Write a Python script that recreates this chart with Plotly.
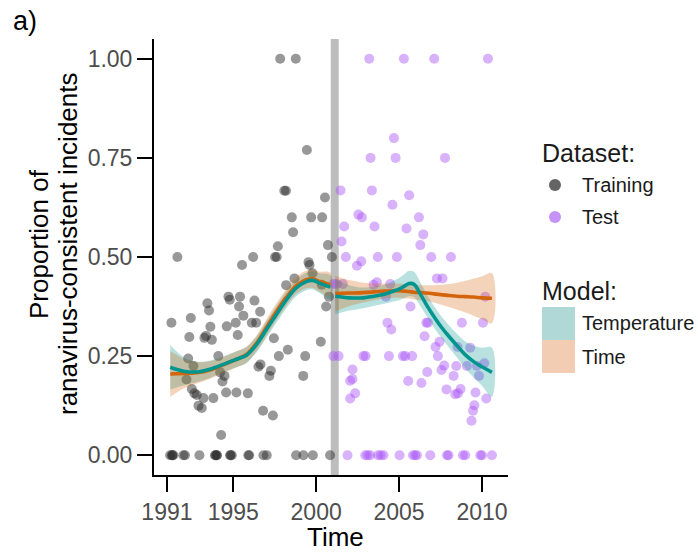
import plotly.graph_objects as go

# ---------------- data ----------------
train_year = [1997.83, 1998.77, 1999.44, 1998.08, 1998.18, 2000.53, 1998.53, 1999.70, 2000.36, 1998.61,
              1997.69, 2000.71, 1991.63, 1996.20, 1997.52, 1997.62, 2000.95, 1995.53, 1999.54, 1999.60,
              1999.78, 1998.69, 1998.19, 2000.34, 2000.77, 2000.60, 1991.27, 1992.44, 1993.44, 1993.54,
              1993.62, 1992.35, 1993.26, 1993.36, 1993.71, 1994.71, 1994.79, 1995.41, 1995.35, 1995.61,
              1996.28, 1996.62, 1996.12, 1996.38, 1995.15, 1994.61, 1995.27, 1997.45, 2000.28, 1998.29,
              1997.75, 1999.34, 1994.10, 1992.28, 1992.60, 1996.64, 1996.52, 1994.21, 1994.47, 1994.35,
              1997.27, 1997.18, 1999.22, 1992.18, 1992.50, 1992.66, 1992.80, 1993.20, 1993.80, 1994.57,
              1995.19, 1995.88, 1992.90, 1993.10, 1996.80, 1997.39, 1994.27,
              1991.19, 1991.31, 1991.33, 1991.39, 1991.99, 1992.09, 1992.96, 1993.90, 1993.93, 1994.00,
              1994.02, 1994.81, 1994.84, 1994.91, 1995.91, 1995.96, 1996.82, 1997.02, 1998.79, 1999.23,
              1999.80, 2000.84]
train_prop = [1.00, 1.00, 0.77, 0.667, 0.667, 0.65, 0.60, 0.60, 0.60, 0.5625,
              0.527, 0.53, 0.50, 0.50, 0.50, 0.50, 0.50, 0.48, 0.487, 0.48,
              0.459, 0.446, 0.429, 0.43, 0.40, 0.375, 0.334, 0.346, 0.383, 0.365,
              0.324, 0.298, 0.296, 0.301, 0.291, 0.40, 0.392, 0.40, 0.375, 0.352,
              0.39, 0.362, 0.334, 0.334, 0.334, 0.325, 0.303, 0.295, 0.286, 0.266,
              0.25, 0.25, 0.25, 0.244, 0.225, 0.229, 0.223, 0.209, 0.20, 0.186,
              0.213, 0.20, 0.20, 0.191, 0.167, 0.156, 0.152, 0.144, 0.144, 0.158,
              0.158, 0.156, 0.125, 0.119, 0.112, 0.10, 0.051,
              0, 0, 0, 0, 0, 0, 0, 0, 0, 0,
              0, 0, 0, 0, 0, 0, 0, 0, 0, 0,
              0, 0]

test_year = [2003.20, 2005.29, 2007.12, 2010.36, 2004.69, 2003.28, 2004.79, 2007.77, 2001.47, 2003.36,
             2005.61, 2004.60, 2002.55, 2002.76, 2006.20, 2001.69, 2003.52, 2005.45, 2006.46, 2001.53,
             2006.28, 2001.79, 2003.72, 2004.87, 2006.94, 2008.13, 2002.46, 2002.72, 2007.28, 2007.62,
             2001.04, 2001.25, 2001.61, 2003.46, 2003.66, 2004.47, 2004.21, 2010.20, 2005.69, 2004.30,
             2004.53, 2006.64, 2006.74, 2008.79, 2010.06, 2006.54, 2007.44, 2007.20, 2008.53, 2009.29,
             2007.34, 2001.04, 2001.35, 2002.85, 2002.98, 2004.39, 2005.23, 2005.37, 2005.79, 2007.72,
             2007.56, 2008.45, 2009.09, 2009.70, 2010.14, 2009.82, 2008.29, 2006.70, 2002.19, 2002.19,
             2002.05, 2005.55, 2006.35, 2007.86, 2008.71, 2008.55, 2008.39, 2009.61, 2002.35, 2002.05,
             2010.26, 2009.54, 2009.46, 2009.37,
             2001.89, 2002.96, 2003.10, 2003.26, 2003.74, 2003.90, 2004.06, 2005.03, 2005.84, 2005.97,
             2006.08, 2006.88, 2007.89, 2007.98, 2008.85, 2008.99, 2009.90, 2010.00, 2010.60]
test_prop = [1.00, 1.00, 1.00, 1.00, 0.80, 0.75, 0.75, 0.75, 0.668, 0.668,
             0.656, 0.632, 0.607, 0.60, 0.60, 0.577, 0.577, 0.572, 0.557, 0.539,
             0.53, 0.50, 0.50, 0.50, 0.50, 0.50, 0.478, 0.489, 0.446, 0.446,
             0.432, 0.432, 0.432, 0.43, 0.436, 0.432, 0.40, 0.40, 0.375, 0.334,
             0.317, 0.334, 0.334, 0.334, 0.334, 0.30, 0.286, 0.273, 0.273, 0.271,
             0.25, 0.25, 0.25, 0.25, 0.25, 0.25, 0.25, 0.25, 0.25, 0.226,
             0.215, 0.225, 0.225, 0.225, 0.232, 0.20, 0.20, 0.21, 0.216, 0.192,
             0.188, 0.187, 0.182, 0.166, 0.167, 0.156, 0.154, 0.158, 0.156, 0.143,
             0.143, 0.126, 0.112, 0.087,
             0, 0, 0, 0, 0, 0, 0, 0, 0, 0,
             0, 0, 0, 0, 0, 0, 0, 0, 0]

# smoother fits: training period
fit_train_year = [1991.2, 1992.0, 1992.8, 1993.6, 1994.4, 1995.2, 1995.8, 1996.4, 1997.0, 1997.6,
                  1998.2, 1998.8, 1999.4, 1999.8, 2000.2, 2000.85]
temp_train = [0.222, 0.212, 0.210, 0.217, 0.229, 0.242, 0.252, 0.279, 0.317, 0.355,
              0.392, 0.422, 0.438, 0.441, 0.434, 0.424]
temp_train_lo = [0.166, 0.176, 0.184, 0.195, 0.209, 0.222, 0.232, 0.259, 0.296, 0.334,
                 0.371, 0.401, 0.416, 0.418, 0.409, 0.394]
temp_train_hi = [0.278, 0.248, 0.236, 0.239, 0.249, 0.262, 0.272, 0.299, 0.338, 0.376,
                 0.413, 0.443, 0.460, 0.464, 0.459, 0.454]
time_train = [0.205, 0.206, 0.208, 0.215, 0.228, 0.242, 0.254, 0.282, 0.322, 0.362,
              0.398, 0.428, 0.443, 0.445, 0.438, 0.430]
time_train_lo = [0.147, 0.168, 0.181, 0.193, 0.208, 0.222, 0.234, 0.262, 0.301, 0.341,
                 0.377, 0.407, 0.421, 0.422, 0.413, 0.400]
time_train_hi = [0.263, 0.244, 0.235, 0.237, 0.248, 0.262, 0.274, 0.302, 0.343, 0.383,
                 0.419, 0.449, 0.465, 0.468, 0.463, 0.460]

# smoother fits: test period
fit_test_year = [2001.15, 2002.0, 2002.85, 2003.5, 2004.1, 2004.6, 2005.0, 2005.3, 2005.6, 2005.9,
                 2006.3, 2006.7, 2007.1, 2007.5, 2008.0, 2008.5, 2009.0, 2009.5, 2010.0, 2010.6]
temp_test = [0.401, 0.397, 0.397, 0.401, 0.406, 0.413, 0.419, 0.426, 0.433, 0.431,
             0.405, 0.376, 0.350, 0.326, 0.300, 0.276, 0.253, 0.236, 0.223, 0.209]
temp_test_lo = [0.356, 0.365, 0.371, 0.377, 0.382, 0.387, 0.391, 0.396, 0.401, 0.399,
                0.375, 0.348, 0.323, 0.299, 0.272, 0.246, 0.219, 0.196, 0.175, 0.147]
temp_test_hi = [0.446, 0.429, 0.423, 0.425, 0.430, 0.439, 0.447, 0.456, 0.465, 0.463,
                0.435, 0.404, 0.377, 0.353, 0.328, 0.306, 0.287, 0.276, 0.271, 0.271]
time_test = [0.408, 0.409, 0.410, 0.412, 0.414, 0.415, 0.415, 0.414, 0.413, 0.411,
             0.410, 0.409, 0.407, 0.405, 0.403, 0.401, 0.400, 0.399, 0.397, 0.396]
time_test_lo = [0.363, 0.376, 0.385, 0.391, 0.395, 0.397, 0.397, 0.396, 0.395, 0.393,
                0.391, 0.389, 0.385, 0.380, 0.374, 0.367, 0.360, 0.352, 0.343, 0.333]
time_test_hi = [0.453, 0.442, 0.435, 0.433, 0.433, 0.433, 0.433, 0.432, 0.431, 0.429,
                0.429, 0.429, 0.429, 0.430, 0.432, 0.435, 0.440, 0.446, 0.451, 0.459]

split_year = 2001.12
x_ticks = [1991, 1995, 2000, 2005, 2010]
y_ticks = [0, 0.25, 0.5, 0.75, 1.0]
y_tick_text = ["0.00", "0.25", "0.50", "0.75", "1.00"]

# ---------------- styles ----------------
FONT = "Liberation Sans, Arial, sans-serif"
TEAL = "#00958e"
ORANGE = "#d4640c"
TEAL_FILL = "rgba(0,149,142,0.28)"
ORANGE_FILL = "rgba(212,100,12,0.28)"
TRAIN_C = "rgba(40,40,40,0.48)"
TEST_C = "rgba(168,85,247,0.45)"

fig = go.Figure()

fig.add_trace(go.Scatter(x=train_year, y=train_prop, mode="markers",
                         marker=dict(size=10, color=TRAIN_C, line=dict(width=0)), hoverinfo="skip"))
fig.add_trace(go.Scatter(x=test_year, y=test_prop, mode="markers",
                         marker=dict(size=10, color=TEST_C, line=dict(width=0)), hoverinfo="skip"))


def band(xs, lo, hi, fill):
    fig.add_trace(go.Scatter(x=list(xs) + list(xs)[::-1], y=list(hi) + list(lo)[::-1],
                             mode="lines", line=dict(width=0, shape="spline"), fill="toself",
                             fillcolor=fill, hoverinfo="skip"))


def line(xs, ys, color):
    fig.add_trace(go.Scatter(x=xs, y=ys, mode="lines",
                             line=dict(color=color, width=3.6, shape="spline"), hoverinfo="skip"))


band(fit_train_year, temp_train_lo, temp_train_hi, TEAL_FILL)
band(fit_train_year, time_train_lo, time_train_hi, ORANGE_FILL)
band(fit_test_year, temp_test_lo, temp_test_hi, TEAL_FILL)
band(fit_test_year, time_test_lo, time_test_hi, ORANGE_FILL)
line(fit_train_year, time_train, ORANGE)
line(fit_train_year, temp_train, TEAL)
line(fit_test_year, time_test, ORANGE)
line(fit_test_year, temp_test, TEAL)

L, R, T, B = 154, 190, 39, 79
W, H = 698, 554
PW, PH = W - L - R, H - T - B


def px(x):
    return (x - L) / PW


def py(y):
    return (H - B - y) / PH


shapes = [dict(type="line", xref="x", yref="paper", x0=split_year, x1=split_year, y0=0, y1=1,
               line=dict(color="#bdbdbd", width=8), layer="below")]
# legend keys
shapes.append(dict(type="circle", xref="paper", yref="paper", x0=px(549), x1=px(561), y0=py(191), y1=py(179),
                   fillcolor="#646464", line=dict(width=0)))
shapes.append(dict(type="circle", xref="paper", yref="paper", x0=px(549), x1=px(561), y0=py(223), y1=py(211),
                   fillcolor="#c593f7", line=dict(width=0)))
shapes.append(dict(type="rect", xref="paper", yref="paper", x0=px(542), x1=px(575), y0=py(340), y1=py(307),
                   fillcolor="#b0d8d6", line=dict(width=0)))
shapes.append(dict(type="rect", xref="paper", yref="paper", x0=px(542), x1=px(575), y0=py(373), y1=py(340),
                   fillcolor="#f2cdb3", line=dict(width=0)))

ann = []


def text(t, x, y, size, color="#1a1a1a", xanchor="left", angle=0):
    ann.append(dict(text=t, xref="paper", yref="paper", x=px(x), y=py(y), xanchor=xanchor, yanchor="middle",
                    showarrow=False, textangle=angle, font=dict(family=FONT, size=size, color=color)))


text("a)", 11, 21, 27, "#000000")
text("Proportion of", 39, 244, 26, "#000000", xanchor="center", angle=-90)
text("ranavirus-consistent incidents", 68, 244, 26, "#000000", xanchor="center", angle=-90)
text("Time", 335, 537, 26, "#000000", xanchor="center")
text("Dataset:", 540, 153, 25)
text("Training", 580, 185, 20)
text("Test", 580, 217, 20)
text("Model:", 540, 291, 25)
text("Temperature", 580, 323, 20)
text("Time", 580, 357, 20)

axis_common = dict(showgrid=False, zeroline=False, showline=True, linewidth=2, linecolor="black",
                   ticks="outside", ticklen=15, tickwidth=2, tickcolor="black",
                   tickfont=dict(family=FONT, size=23, color="#4d4d4d"))

fig.update_layout(
    width=W, height=H, margin=dict(l=L, r=R, t=T, b=B),
    paper_bgcolor="white", plot_bgcolor="white", showlegend=False,
    xaxis=dict(range=[1990.22, 2011.57], tickvals=x_ticks, **axis_common),
    yaxis=dict(range=[-0.05, 1.05], tickvals=y_ticks, ticktext=y_tick_text, **axis_common),
    shapes=shapes, annotations=ann,
)

fig.write_html("out.html")
